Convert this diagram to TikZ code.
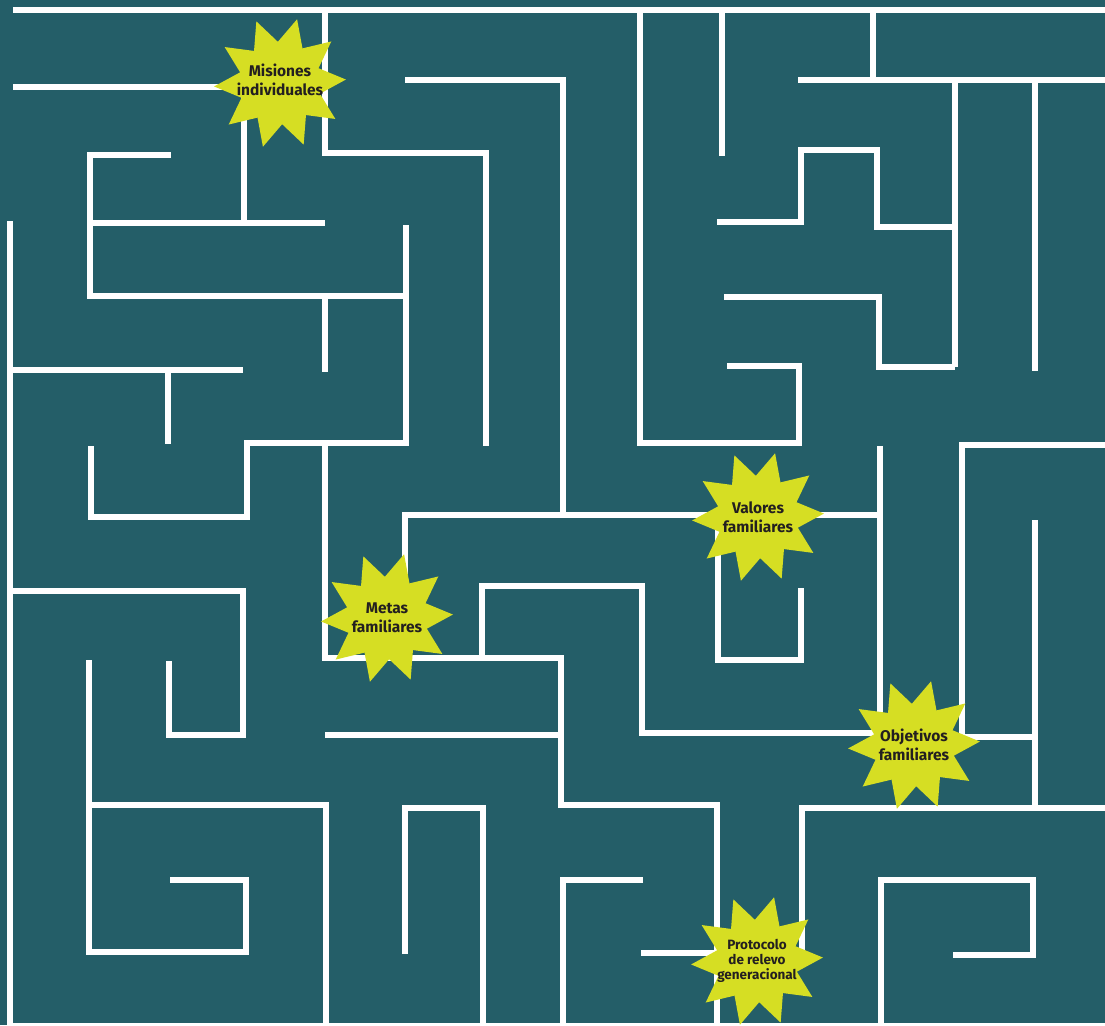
\documentclass[tikz,border=0pt]{standalone}
\usepackage{fontspec}
\newfontfamily\burstfont{Fira Sans}
\usetikzlibrary{shapes.geometric}
\definecolor{mazeteal}{HTML}{245E68}
\definecolor{burstlime}{HTML}{D6DE23}
\definecolor{inkdark}{HTML}{231F20}
\tikzset{
  mz wall/.style={draw=white, line width=6.6pt, line cap=butt, line join=miter},
  mz burst/.style={star, star points=10, star point ratio=1.6, minimum size=132pt, inner sep=0pt,
                   fill=burstlime, draw=none, shape border rotate=21},
  mz text/.style={align=center, text=inkdark, inner sep=0pt, font=\burstfont\bfseries\fontsize{15.5}{18.5}\selectfont},
  mz small/.style={mz text, font=\burstfont\bfseries\fontsize{13.5}{15}\selectfont},
}
\begin{document}
\begin{tikzpicture}[x=1pt, y=-1pt]
  \useasboundingbox (0,0) rectangle (1105,1025);
  \fill[mazeteal] (0,0) rectangle (1105,1025);
  % outer walls
  \draw[mz wall] (13,10) -- (1105,10);
  \draw[mz wall] (10,221) -- (10,1026) -- (1105,1026);
  % left block
  \draw[mz wall] (13,87) -- (244,87) -- (244,223);
  \draw[mz wall] (171,155) -- (90,155) -- (90,296) -- (406,296);
  \draw[mz wall] (90,223) -- (325,223);
  \draw[mz wall] (325,13) -- (325,153) -- (486,153) -- (486,445.5);
  \draw[mz wall] (405,80) -- (563,80) -- (563,515);
  \draw[mz wall] (406,225) -- (406,443) -- (247,443) -- (247,517) -- (91,517) -- (91,446);
  \draw[mz wall] (325,296) -- (325,371.5);
  \draw[mz wall] (10,370) -- (243,370);
  \draw[mz wall] (168,370) -- (168,444);
  \draw[mz wall] (10,591) -- (243,591) -- (243,735) -- (169,735) -- (169,661);
  \draw[mz wall] (89,660) -- (89,952) -- (246,952) -- (246,880) -- (170,880);
  \draw[mz wall] (89,805) -- (326,805) -- (326,1026);
  % middle block
  \draw[mz wall] (325,443) -- (325,658) -- (561,658) -- (561,805) -- (717,805) -- (717,1026);
  \draw[mz wall] (325,735) -- (561,735);
  \draw[mz wall] (405,600) -- (405,515) -- (880,515);
  \draw[mz wall] (482,658) -- (482,586) -- (642,586) -- (642,733) -- (880,733);
  \draw[mz wall] (880,446) -- (880,733);
  \draw[mz wall] (718,515) -- (718,660) -- (801,660) -- (801,588);
  \draw[mz wall] (405,954) -- (405,808) -- (483,808) -- (483,1026);
  \draw[mz wall] (643,880) -- (563,880) -- (563,1026);
  \draw[mz wall] (641,953) -- (717,953);
  % right block
  \draw[mz wall] (640,10) -- (640,443) -- (799,443) -- (799,366) -- (727,366);
  \draw[mz wall] (722,10) -- (722,155.5);
  \draw[mz wall] (717,222) -- (801,222) -- (801,150) -- (877,150) -- (877,227) -- (955,227);
  \draw[mz wall] (724,297) -- (879,297) -- (879,367) -- (955,367);
  \draw[mz wall] (873,10) -- (873,80);
  \draw[mz wall] (798,80) -- (1105,80);
  \draw[mz wall] (955,80) -- (955,367);
  \draw[mz wall] (1035,80) -- (1035,371);
  \draw[mz wall] (1105,445) -- (962,445) -- (962,737) -- (1035,737);
  \draw[mz wall] (1035,520) -- (1035,808);
  \draw[mz wall] (802,950) -- (802,808) -- (1105,808);
  \draw[mz wall] (881,1026) -- (881,880) -- (1033,880) -- (1033,955) -- (953,955);
  % bursts
  \node[mz burst] (misiones) at (280,83) {};
  \node[mz burst] (metas) at (387,618) {};
  \node[mz burst] (valores) at (758,517) {};
  \node[mz burst] (objetivos) at (914,745) {};
  \node[mz burst] (protocolo) at (757,961) {};
  \node[mz text] (misionesT) at ([yshift=3pt]misiones.center) {Misiones\\individuales};
  \node[mz text] (metasT) at (metas) {Metas\\familiares};
  \node[mz text] (valoresT) at (valores) {Valores\\familiares};
  \node[mz text] (objetivosT) at (objetivos) {Objetivos\\familiares};
  \node[mz small] (protocoloT) at (protocolo) {Protocolo\\de relevo\\generacional};
\end{tikzpicture}
\end{document}
